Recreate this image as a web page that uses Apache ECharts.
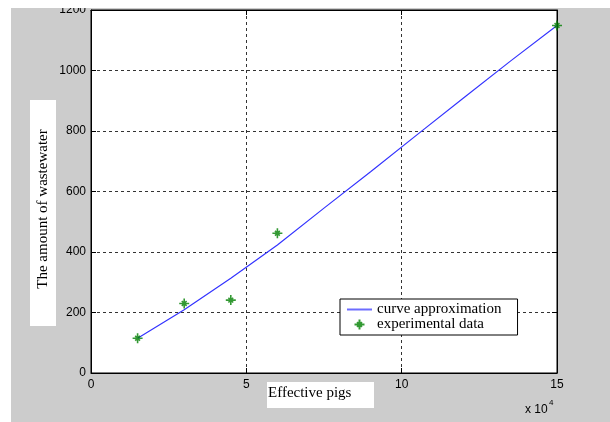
<!DOCTYPE html>
<html>
<head>
<meta charset="utf-8">
<script src="https://cdn.jsdelivr.net/npm/echarts@6/dist/echarts.min.js"></script>
<style>html,body{margin:0;padding:0;background:#fff}#c{width:610px;height:422px}</style>
</head>
<body>
<div id="c"></div>
<script>
// Data (x in units of 10^4 pigs)
var expX = [1.5, 3, 4.5, 6, 15];
var expY = [115, 230, 241, 462, 1149];
var curveX = [1.5, 3, 4.5, 6, 7.5, 9, 10.5, 12, 13.5, 15];
var curveY = [115, 209, 313, 423, 545, 665, 788, 910, 1031, 1149];
var xTicks = [0, 5, 10, 15];
var yTicks = [0, 200, 400, 600, 800, 1000, 1200];
var seriesNames = ['curve approximation', 'experimental data'];

var chart = echarts.init(document.getElementById('c'), null, {renderer: 'canvas'});
var serif = '"Liberation Serif", "DejaVu Serif", serif';
var sans = '"Liberation Sans", Arial, sans-serif';

function pairs(xs, ys) { return xs.map(function (x, i) { return [x, ys[i]]; }); }

var starPath = 'path://M5,0 L5,10 M0,5 L10,5 M2.6,2.6 L7.4,7.4 M7.4,2.6 L2.6,7.4';
var tickStyle = {show: true, inside: true, length: 5, lineStyle: {color: '#000', width: 1}};
var gridLine = {show: true, lineStyle: {color: '#333', width: 1, type: [3, 3]}};

chart.setOption({
  backgroundColor: '#fff',
  animation: false,
  graphic: [
    {type: 'rect', z: -100, silent: true, shape: {x: 11, y: 8, width: 599, height: 414}, style: {fill: '#cccccc'}},
    {type: 'rect', z: 100, silent: true, shape: {x: 0, y: 0, width: 610, height: 8}, style: {fill: '#fff'}},
    {type: 'rect', z: 100, silent: true, shape: {x: 30, y: 100, width: 26, height: 226}, style: {fill: '#fff'}},
    {type: 'text', z: 101, silent: true, x: 43, y: 209, rotation: Math.PI / 2,
      style: {text: 'The amount of wastewater', font: '15px ' + serif, fill: '#000', align: 'center', verticalAlign: 'middle'}},
    {type: 'rect', z: 100, silent: true, shape: {x: 267, y: 382, width: 107, height: 26}, style: {fill: '#fff'}},
    {type: 'text', z: 101, silent: true, x: 268, y: 393,
      style: {text: 'Effective pigs', font: '15px ' + serif, fill: '#000', align: 'left', verticalAlign: 'middle'}},
    {type: 'text', z: 101, silent: true, x: 525, y: 410,
      style: {text: 'x 10', font: '12px ' + sans, fill: '#000', align: 'left', verticalAlign: 'middle'}},
    {type: 'text', z: 101, silent: true, x: 549, y: 403,
      style: {text: '4', font: '8px ' + sans, fill: '#000', align: 'left', verticalAlign: 'middle'}}
  ],
  grid: {left: 91, right: 53, top: 10, bottom: 49, show: true, backgroundColor: '#fff', borderColor: '#000', borderWidth: 1},
  legend: {
    left: 340, top: 299, orient: 'vertical',
    backgroundColor: '#fff', borderColor: '#000', borderWidth: 1,
    padding: [3, 16, 3, 7], itemGap: 0, itemWidth: 25, itemHeight: 10,
    textStyle: {fontFamily: serif, fontSize: 15, color: '#000', lineHeight: 15},
    data: [
      {name: seriesNames[0], icon: 'path://M0,0 L25,0 L25,2 L0,2 Z', itemStyle: {color: '#6d6dff', borderWidth: 0}},
      {name: seriesNames[1]}
    ]
  },
  xAxis: [
    {type: 'value', min: xTicks[0], max: xTicks[xTicks.length - 1], interval: 5, position: 'bottom',
      axisLine: {show: true, onZero: false, lineStyle: {color: '#000'}},
      axisTick: tickStyle, splitLine: gridLine,
      axisLabel: {color: '#000', fontFamily: sans, fontSize: 12, margin: 6, formatter: function (v) { return String(v); }}},
    {type: 'value', min: xTicks[0], max: xTicks[xTicks.length - 1], interval: 5, position: 'top',
      axisLine: {show: true, onZero: false, lineStyle: {color: '#000'}},
      axisTick: tickStyle, splitLine: {show: false}, axisLabel: {show: false}}
  ],
  yAxis: [
    {type: 'value', min: yTicks[0], max: yTicks[yTicks.length - 1], interval: 200, position: 'left',
      axisLine: {show: true, onZero: false, lineStyle: {color: '#000'}},
      axisTick: tickStyle, splitLine: gridLine,
      axisLabel: {color: '#000', fontFamily: sans, fontSize: 12, margin: 5, formatter: function (v) { return String(v); }}},
    {type: 'value', min: yTicks[0], max: yTicks[yTicks.length - 1], interval: 200, position: 'right',
      axisLine: {show: true, onZero: false, lineStyle: {color: '#000'}},
      axisTick: tickStyle, splitLine: {show: false}, axisLabel: {show: false}}
  ],
  series: [
    {name: seriesNames[0], type: 'line', data: pairs(curveX, curveY), symbol: 'none', smooth: false,
      lineStyle: {color: '#3333ff', width: 1.2}, itemStyle: {color: '#6d6dff'}, z: 3},
    {name: seriesNames[1], type: 'scatter', data: pairs(expX, expY), symbol: starPath, symbolSize: 10,
      itemStyle: {color: 'rgba(0,0,0,0)', borderColor: '#008000', borderWidth: 1.6}, z: 4}
  ]
});
</script>
</body>
</html>
